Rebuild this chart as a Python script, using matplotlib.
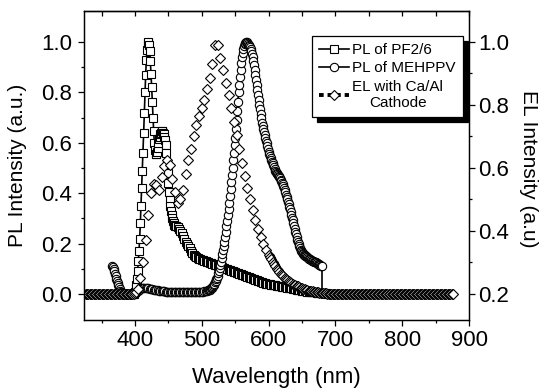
import numpy as np
import matplotlib.pyplot as plt
from matplotlib.lines import Line2D
from matplotlib.ticker import MultipleLocator, FixedLocator

plt.rcParams['font.family'] = ['Liberation Sans', 'DejaVu Sans']

# PL of PF2/6 (left axis): 1 nm steps from 380 nm, then 2 nm steps from 462 nm
pf_start1, pf_step1 = 380, 1
pf_int1 = [0, 0, 0, 0, 0, 0, 0, 0, 0, 0,
           0, 0, 0, 0, 0, 0, 0, 0, 0, 0.005,
           0.01, 0.02, 0.035, 0.06, 0.09, 0.13, 0.17, 0.22, 0.28, 0.35,
           0.42, 0.49, 0.56, 0.64, 0.72, 0.80, 0.87, 0.93, 0.97, 0.995,
           1.0, 0.99, 0.965, 0.925, 0.875, 0.82, 0.76, 0.70, 0.645, 0.60,
           0.57, 0.555, 0.555, 0.565, 0.58, 0.60, 0.615, 0.625, 0.635, 0.64,
           0.645, 0.645, 0.64, 0.635, 0.625, 0.61, 0.59, 0.56, 0.52, 0.48,
           0.44, 0.405, 0.375, 0.35, 0.33, 0.315, 0.30, 0.29, 0.28, 0.275,
           0.27, 0.269]
pf_start2, pf_step2 = 462, 2
pf_int2 = [0.268, 0.265, 0.26, 0.252, 0.242, 0.23, 0.218, 0.207, 0.198, 0.19,
           0.182, 0.172, 0.163, 0.156, 0.151, 0.147, 0.144, 0.141, 0.139, 0.137,
           0.135, 0.133, 0.131, 0.129, 0.127, 0.125, 0.123, 0.121, 0.119, 0.117,
           0.115, 0.113, 0.111, 0.109, 0.107, 0.105, 0.103, 0.101, 0.099, 0.097,
           0.095, 0.093, 0.091, 0.089, 0.087, 0.085, 0.083, 0.081, 0.079, 0.077,
           0.075, 0.073, 0.071, 0.069, 0.067, 0.065, 0.063, 0.061, 0.059, 0.057,
           0.055, 0.053, 0.051, 0.049, 0.047, 0.045, 0.043, 0.041, 0.04, 0.039,
           0.038, 0.037, 0.036, 0.035, 0.034, 0.033, 0.032, 0.031, 0.03, 0.029,
           0.028, 0.027, 0.026, 0.025, 0.024, 0.023, 0.022, 0.021, 0.02, 0.019,
           0.018, 0.017, 0.016, 0.015, 0.014, 0.013, 0.012, 0.011, 0.01, 0.009,
           0.009, 0.008, 0.008, 0.007, 0.007, 0.006, 0.006, 0.005, 0.005, 0.004,
           0.004, 0.003, 0.003, 0.002, 0.002, 0.001, 0.001, 0.001, 0.0, 0.0]

# PL of MEHPPV (left axis)
meh_start1, meh_step1 = 366, 1
meh_int1 = [0.11, 0.108, 0.10, 0.09, 0.08, 0.07, 0.06, 0.05, 0.042, 0.034,
            0.027, 0.02, 0.014, 0.009, 0.005]
meh_start2, meh_step2 = 382, 2
meh_int2 = [0.003, 0.002, 0.002, 0.001, 0.001, 0.001, 0.001, 0.002, 0.003, 0.004,
            0.007, 0.012, 0.018, 0.022, 0.024, 0.025, 0.025, 0.024, 0.023, 0.022,
            0.021, 0.02, 0.019, 0.018, 0.017, 0.016, 0.015, 0.014, 0.013, 0.012,
            0.011, 0.011, 0.010, 0.010, 0.010, 0.009, 0.009, 0.009, 0.008, 0.008,
            0.008, 0.008, 0.008, 0.008, 0.008, 0.008, 0.008, 0.008, 0.008, 0.008,
            0.008, 0.008, 0.008, 0.008, 0.008, 0.008, 0.008, 0.009, 0.009, 0.01,
            0.01, 0.011, 0.012, 0.013, 0.015]
meh_start3, meh_step3 = 511, 1
meh_int3 = [0.016, 0.018, 0.02, 0.022, 0.025, 0.028, 0.032, 0.036, 0.041, 0.046,
            0.052, 0.058, 0.065, 0.073, 0.082, 0.092, 0.103, 0.115, 0.128, 0.142,
            0.157, 0.173, 0.19, 0.208, 0.227, 0.247, 0.268, 0.29, 0.313, 0.337,
            0.362, 0.388, 0.415, 0.443, 0.472, 0.501, 0.531, 0.561, 0.591, 0.621,
            0.655, 0.69, 0.725, 0.763, 0.80, 0.83, 0.86, 0.89, 0.915, 0.94,
            0.958, 0.972, 0.984, 0.992, 0.997, 1.0, 1.0, 0.998, 0.993, 0.99,
            0.985, 0.979, 0.972, 0.963, 0.952, 0.939, 0.924, 0.907, 0.889, 0.87,
            0.85, 0.83, 0.81, 0.79, 0.77, 0.752, 0.734, 0.716, 0.698, 0.68,
            0.666, 0.653, 0.641, 0.63, 0.62, 0.609, 0.598, 0.587, 0.576, 0.565,
            0.557, 0.549, 0.541, 0.533, 0.525, 0.518, 0.511, 0.504, 0.497, 0.49,
            0.486, 0.482, 0.478, 0.474, 0.47, 0.465, 0.46, 0.454, 0.448, 0.442,
            0.435, 0.428, 0.42, 0.412, 0.403, 0.394, 0.385, 0.376, 0.366, 0.356,
            0.346, 0.336, 0.325, 0.314, 0.303, 0.292, 0.281, 0.27, 0.259, 0.248,
            0.237, 0.226, 0.216, 0.206, 0.197, 0.189, 0.182, 0.176, 0.171, 0.166,
            0.162, 0.159, 0.156, 0.153, 0.151, 0.149, 0.147, 0.145, 0.143, 0.141,
            0.14, 0.138, 0.136, 0.134, 0.132, 0.131, 0.13, 0.129, 0.128, 0.127,
            0.126, 0.124, 0.122, 0.12, 0.118, 0.117, 0.115, 0.113, 0.112, 0.11]
meh_end = 0.0  # line drops to the baseline after the last point

# EL with Ca/Al cathode (right axis)
el_start1, el_step1 = 324, 2
el_int1 = [0.2, 0.2, 0.2, 0.2, 0.2, 0.2, 0.2, 0.2, 0.2, 0.2,
           0.2, 0.2, 0.2, 0.2, 0.2, 0.2, 0.2, 0.2, 0.2, 0.2,
           0.2, 0.2, 0.2, 0.2, 0.2, 0.2, 0.2, 0.2, 0.2, 0.2,
           0.2, 0.2, 0.2, 0.2, 0.2, 0.2, 0.2, 0.2, 0.202, 0.205]
el_start2, el_step2 = 404, 4
el_int2 = [0.215, 0.25, 0.30, 0.37, 0.45, 0.52, 0.55, 0.545, 0.53, 0.57,
           0.605, 0.625, 0.61, 0.565, 0.525, 0.49, 0.50, 0.53, 0.58, 0.625,
           0.66, 0.70, 0.735, 0.765, 0.79, 0.815, 0.85, 0.885, 0.93, 0.99,
           0.99, 0.95, 0.91, 0.87, 0.83, 0.79, 0.745, 0.705, 0.66, 0.615,
           0.575, 0.535, 0.50, 0.465, 0.435, 0.405, 0.38, 0.36, 0.34, 0.325]
el_start3, el_step3 = 602, 2
el_int3 = [0.318, 0.31, 0.302, 0.295, 0.288, 0.28, 0.275, 0.27, 0.265, 0.26,
           0.256, 0.252, 0.248, 0.245, 0.242, 0.238, 0.235, 0.232, 0.23, 0.228,
           0.226, 0.224, 0.222, 0.22, 0.218, 0.217, 0.215, 0.214, 0.212, 0.211,
           0.21, 0.209, 0.208, 0.207, 0.206, 0.205, 0.205, 0.204, 0.204, 0.203,
           0.203, 0.202, 0.202, 0.201, 0.201, 0.201, 0.2, 0.2, 0.2, 0.2,
           0.2, 0.2, 0.2, 0.2, 0.2, 0.2, 0.2, 0.2, 0.2, 0.2,
           0.2, 0.2, 0.2, 0.2, 0.2, 0.2, 0.2, 0.2, 0.2, 0.2,
           0.2, 0.2, 0.2, 0.2, 0.2, 0.2, 0.2, 0.2, 0.2, 0.2,
           0.2, 0.2, 0.2, 0.2, 0.2, 0.2, 0.2, 0.2, 0.2, 0.2,
           0.2, 0.2, 0.2, 0.2, 0.2, 0.2, 0.2, 0.2, 0.2, 0.2,
           0.2, 0.2, 0.2, 0.2, 0.2, 0.2, 0.2, 0.2, 0.2, 0.2,
           0.2, 0.2, 0.2, 0.2, 0.2, 0.2, 0.2, 0.2, 0.2, 0.2,
           0.2, 0.2, 0.2, 0.2, 0.2, 0.2, 0.2, 0.2, 0.2, 0.2,
           0.2, 0.2, 0.2, 0.2, 0.2, 0.2, 0.2, 0.2]

labels = ['PL of PF2/6', 'PL of MEHPPV', 'EL with Ca/Al\nCathode']

# wavelength grids
pf_wl = np.concatenate([pf_start1 + pf_step1 * np.arange(len(pf_int1)),
                        pf_start2 + pf_step2 * np.arange(len(pf_int2))])
pf_y = np.array(pf_int1 + pf_int2)
meh_wl = np.concatenate([meh_start1 + meh_step1 * np.arange(len(meh_int1)),
                         meh_start2 + meh_step2 * np.arange(len(meh_int2)),
                         meh_start3 + meh_step3 * np.arange(len(meh_int3))])
meh_y = np.array(meh_int1 + meh_int2 + meh_int3)
el_wl = np.concatenate([el_start1 + el_step1 * np.arange(len(el_int1)),
                        el_start2 + el_step2 * np.arange(len(el_int2)),
                        el_start3 + el_step3 * np.arange(len(el_int3))])
el_y = np.array(el_int1 + el_int2 + el_int3)

fig = plt.figure(figsize=(5.42, 3.90), dpi=100)
ax = fig.add_axes([84 / 542, 1 - 320 / 390, 385 / 542, 309 / 390])
ax2 = ax.twinx()

mk = dict(markerfacecolor='white', markeredgecolor='black', markeredgewidth=0.8)
l1, = ax.plot(pf_wl, pf_y, '-', color='black', lw=1.2, marker='s', markersize=5.5, **mk)
ax.plot([meh_wl[-1], meh_wl[-1]], [meh_y[-1], meh_end], '-', color='black', lw=1.2)
l2, = ax.plot(meh_wl, meh_y, '-', color='black', lw=1.2, marker='o', markersize=6, **mk)
ax2.plot(el_wl, el_y, linestyle='none', marker='D', markersize=4.8, **mk)
l3 = Line2D([], [], color='black', lw=2.8, linestyle=(0, (1.2, 1.0)),
            marker='D', markersize=4.8, **mk)

ax.set_xlim(323.7, 900)
ax.set_ylim(-0.103, 1.123)
ax2.set_ylim(0.1175, 1.098)

ax.xaxis.set_major_locator(MultipleLocator(100))
ax.xaxis.set_minor_locator(MultipleLocator(50))
ax.yaxis.set_major_locator(FixedLocator([0.0, 0.2, 0.4, 0.6, 0.8, 1.0]))
ax.yaxis.set_minor_locator(FixedLocator([0.1, 0.3, 0.5, 0.7, 0.9]))
ax2.yaxis.set_major_locator(FixedLocator([0.2, 0.4, 0.6, 0.8, 1.0]))
ax2.yaxis.set_minor_locator(FixedLocator([0.3, 0.5, 0.7, 0.9]))

ax.tick_params(axis='x', which='both', direction='out', top=False, width=0.9,
               labelsize=16, pad=3)
ax.tick_params(axis='x', which='major', length=4.5)
ax.tick_params(axis='x', which='minor', length=2.5)
ax.tick_params(axis='y', which='both', direction='out', width=0.9, labelsize=16, pad=4.5)
ax.tick_params(axis='y', which='major', length=4)
ax.tick_params(axis='y', which='minor', length=2.5)
ax2.tick_params(axis='y', which='both', direction='out', width=0.9, labelsize=16, pad=2.5)
ax2.tick_params(axis='y', which='major', length=4)
ax2.tick_params(axis='y', which='minor', length=2.5)

top = ax.secondary_xaxis('top')
top.xaxis.set_major_locator(MultipleLocator(100))
top.xaxis.set_minor_locator(MultipleLocator(50))
top.tick_params(which='both', direction='in', labeltop=False, width=0.9, length=3.5)

for a in (ax, ax2):
    for s in a.spines.values():
        s.set_linewidth(0.9)
top.spines['top'].set_linewidth(0.9)

ax.set_xlabel('Wavelength (nm)', fontsize=16)
ax.xaxis.set_label_coords(0.5, -0.152)
ax.set_ylabel('PL Intensity (a.u.)', fontsize=15)
ax.yaxis.set_label_coords(-0.148, 0.5)
ax2.set_ylabel('EL Intensity (a.u)', fontsize=15, rotation=270, va='bottom')
ax2.yaxis.set_label_coords(1.13, 0.49)

leg = ax2.legend([l1, l2, l3], labels, loc='upper right',
                 bbox_to_anchor=(0.984, 0.919), borderaxespad=0, fontsize=11,
                 frameon=True, fancybox=False, edgecolor='black', framealpha=1,
                 shadow={'ox': 3.5, 'oy': -3.5, 'facecolor': 'black',
                         'edgecolor': 'black', 'alpha': 1},
                 handlelength=2.0, handletextpad=0.2, borderpad=0.45,
                 labelspacing=0.3, numpoints=1)
leg.get_frame().set_linewidth(0.9)
for t in leg.get_texts():
    t.set_multialignment('center')

fig.savefig('out.png', dpi=100)
